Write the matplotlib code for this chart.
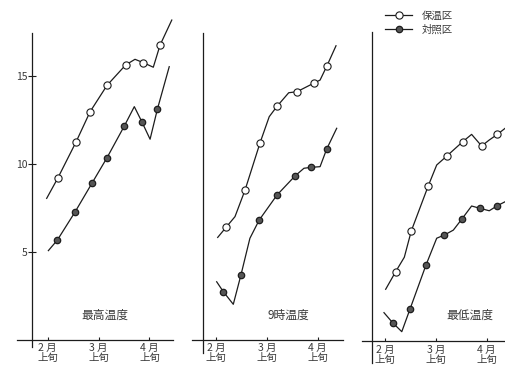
import matplotlib
matplotlib.use("Agg")
import matplotlib.pyplot as plt

plt.rcParams['font.family'] = ['Noto Sans CJK JP', 'DejaVu Sans']

# ---------------- data ----------------
month_pos = [0, 3, 6]                       # dekad index (2月上旬 = 0)
month_labels = ["2 月\n上旬", "3 月\n上旬", "4 月\n上旬"]
panel_titles = ["最高温度", "9時温度", "最低温度"]
series_names = ["保温区", "対照区"]
y_ticks = [5, 10, 15]

# 最高温度
max_warm_x = [-0.06, 0.59, 1.67, 2.50, 3.50, 4.60, 5.15, 5.64, 6.23, 6.63, 7.32]
max_warm_y = [8.02, 9.16, 11.22, 12.94, 14.44, 15.60, 15.92, 15.73, 15.47, 16.73, 18.15]
max_warm_marks = [1, 2, 3, 4, 5, 7, 9]
max_ctrl_x = [0.04, 0.57, 1.61, 2.63, 3.50, 4.52, 5.11, 5.55, 6.04, 6.47, 7.17]
max_ctrl_y = [5.05, 5.65, 7.24, 8.91, 10.33, 12.13, 13.23, 12.38, 11.38, 13.08, 15.50]
max_ctrl_marks = [1, 2, 3, 4, 5, 7, 9]

# 9時温度
nine_warm_x = [0.10, 0.59, 1.12, 1.71, 2.60, 3.14, 3.60, 4.29, 4.78, 5.78, 6.14, 6.55, 7.08]
nine_warm_y = [5.80, 6.37, 6.98, 8.48, 11.18, 12.66, 13.25, 14.02, 14.08, 14.57, 14.74, 15.56, 16.69]
nine_warm_marks = [1, 3, 4, 6, 8, 9, 11]
nine_ctrl_x = [0.04, 0.43, 1.02, 1.47, 2.00, 2.55, 3.60, 4.66, 5.19, 5.60, 6.14, 6.53, 7.12]
nine_ctrl_y = [3.28, 2.72, 2.00, 3.66, 5.75, 6.79, 8.21, 9.29, 9.73, 9.78, 9.82, 10.82, 12.00]
nine_ctrl_marks = [1, 3, 5, 6, 7, 9, 11]

# 最低温度
min_warm_x = [0.04, 0.63, 1.14, 1.55, 2.55, 3.05, 3.67, 4.58, 5.11, 5.70, 6.15, 6.63, 7.08]
min_warm_y = [2.94, 3.94, 4.76, 6.25, 8.81, 10.00, 10.53, 11.32, 11.74, 11.08, 11.42, 11.74, 12.08]
min_warm_marks = [1, 3, 4, 6, 7, 9, 11]
min_ctrl_x = [-0.06, 0.45, 0.99, 1.47, 2.42, 3.05, 3.50, 4.03, 4.52, 5.11, 5.60, 6.15, 6.63, 7.08]
min_ctrl_y = [1.61, 1.04, 0.53, 1.80, 4.32, 5.84, 6.02, 6.30, 6.91, 7.67, 7.54, 7.40, 7.69, 7.91]
min_ctrl_marks = [1, 3, 4, 6, 8, 10, 12]

panel_series = [
    ((max_warm_x, max_warm_y, max_warm_marks), (max_ctrl_x, max_ctrl_y, max_ctrl_marks)),
    ((nine_warm_x, nine_warm_y, nine_warm_marks), (nine_ctrl_x, nine_ctrl_y, nine_ctrl_marks)),
    ((min_warm_x, min_warm_y, min_warm_marks), (min_ctrl_x, min_ctrl_y, min_ctrl_marks)),
]

# ---------------- layout (pixels) ----------------
W, H = 505, 368
PX_DEK = 16.95   # pixels per dekad
PX_DEG = 17.6    # pixels per degree
# left, right, x-origin, y-zero, y-axis x, y-axis top, y-axis bottom, x-axis left, x-axis right, title x
layout = [
    (0, 185, 47.7, 339.5, 32.3, 33.0, 346.7, 17.0, 173.0, 105),
    (185, 355, 216.0, 339.5, 202.7, 33.3, 353.0, 191.7, 343.3, 288),
    (355, 505, 385.0, 341.0, 372.3, 31.7, 363.0, 361.7, 520.0, 470),
]

INK = "#1c1c1c"
TXT = "#3a3a3a"

fig = plt.figure(figsize=(W / 100, H / 100), dpi=100)
fig.patch.set_facecolor("white")

handles = None
for i, (lay, series) in enumerate(zip(layout, panel_series)):
    l, r, ox, y0, yax, ytop, ybot, xl, xr, tx = lay
    ax = fig.add_axes([l / W, 0, (r - l) / W, 1])
    ax.set_facecolor("none")
    ax.set_xlim((l - ox) / PX_DEK, (r - ox) / PX_DEK)
    ax.set_ylim((y0 - H) / PX_DEG, y0 / PX_DEG)
    for s in ("top", "right"):
        ax.spines[s].set_visible(False)
    ax.spines["left"].set_position(("data", (yax - ox) / PX_DEK))
    ax.spines["left"].set_bounds((y0 - ybot) / PX_DEG, (y0 - ytop) / PX_DEG)
    ax.spines["bottom"].set_position(("data", 0))
    ax.spines["bottom"].set_bounds((xl - ox) / PX_DEK, (xr - ox) / PX_DEK)
    for s in ("left", "bottom"):
        ax.spines[s].set_color(INK)
        ax.spines[s].set_linewidth(0.9)

    ax.set_xticks(month_pos)
    ax.set_xticklabels(month_labels, fontsize=7.5, color=TXT, linespacing=1.05)
    ax.tick_params(axis="x", direction="in", length=2.5, width=0.8, color=INK, pad=2.5)
    if i == 0:
        ax.set_yticks(y_ticks)
        ax.set_yticklabels([str(v) for v in y_ticks], fontsize=7.5, color=TXT)
        ax.tick_params(axis="y", direction="inout", length=6, width=0.8, color=INK, pad=0.5)
    else:
        ax.set_yticks([])

    (wx, wy, wm), (cx, cy, cm) = series
    hw, = ax.plot(wx, wy, color=INK, lw=0.9, marker="o", markevery=wm,
                  markersize=5.2, markerfacecolor="white", markeredgecolor=INK,
                  markeredgewidth=0.8)
    hc, = ax.plot(cx, cy, color=INK, lw=0.9, marker="o", markevery=cm,
                  markersize=4.6, markerfacecolor="#555555", markeredgecolor=INK,
                  markeredgewidth=0.9)
    if handles is None:
        handles = [hw, hc]

    fig.text(tx / W, 1 - 315 / H, panel_titles[i], ha="center", va="center",
             fontsize=8.5, color=TXT)

leg = fig.legend(handles=handles, labels=series_names, loc="center left",
                 bbox_to_anchor=(385 / W, 1 - 22.5 / H), frameon=False,
                 fontsize=7.5, handlelength=2.6, handletextpad=0.9,
                 labelspacing=0.35, borderpad=0, borderaxespad=0)
for t in leg.get_texts():
    t.set_color(TXT)

fig.savefig("out.png", dpi=100, facecolor="white")
